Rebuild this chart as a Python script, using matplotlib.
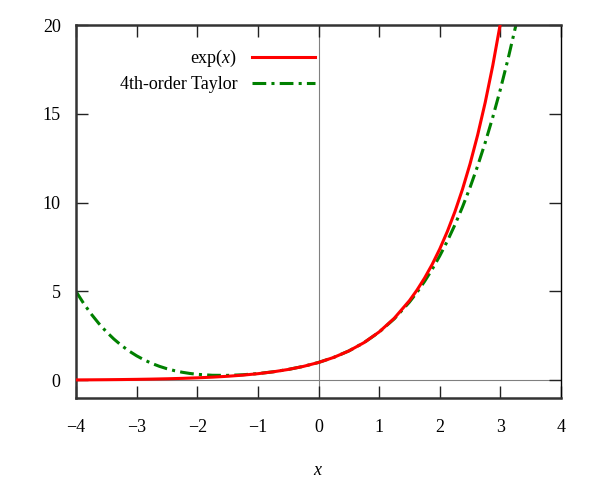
import matplotlib
matplotlib.use("Agg")
import matplotlib.pyplot as plt

exp_x = [-4.0, -3.75, -3.5, -3.25, -3.0, -2.75, -2.5, -2.25, -2.0, -1.75, -1.5, -1.25,
         -1.0, -0.75, -0.5, -0.25, 0.0, 0.25, 0.5, 0.75, 1.0, 1.25, 1.5, 1.625, 1.75,
         1.875, 2.0, 2.125, 2.25, 2.375, 2.5, 2.625, 2.75, 2.875, 3.0, 3.125]
exp_vals = [0.018316, 0.023518, 0.030197, 0.038774, 0.049787, 0.063928, 0.082085, 0.105399,
            0.135335, 0.173774, 0.223130, 0.286505, 0.367879, 0.472367, 0.606531, 0.778801,
            1.0, 1.284025, 1.648721, 2.117000, 2.718282, 3.490343, 4.481689, 5.078419,
            5.754603, 6.520821, 7.389056, 8.372894, 9.487736, 10.751010, 12.182494,
            13.804568, 15.642632, 17.725417, 20.085537, 22.759886]
taylor_x = [-4.0, -3.875, -3.75, -3.625, -3.5, -3.375, -3.25, -3.125, -3.0, -2.875, -2.75,
            -2.625, -2.5, -2.375, -2.25, -2.125, -2.0, -1.75, -1.5, -1.25, -1.0, -0.75,
            -0.5, -0.25, 0.0, 0.25, 0.5, 0.75, 1.0, 1.25, 1.5, 1.625, 1.75, 1.875, 2.0,
            2.125, 2.25, 2.375, 2.5, 2.625, 2.75, 2.875, 3.0, 3.125, 3.25, 3.375]
taylor_vals = [5.0, 4.329763, 3.731934, 3.201019, 2.731771, 2.319183, 1.958496, 1.645193,
               1.375, 1.143891, 0.948079, 0.784028, 0.648437, 0.538260, 0.450683, 0.383149,
               0.333333, 0.278809, 0.273438, 0.307454, 0.375, 0.474121, 0.606771, 0.778809,
               1.0, 1.284017, 1.648437, 2.114746, 2.708333, 3.458496, 4.398438, 4.951020,
               5.565267, 6.246430, 7.0, 7.831717, 8.747559, 9.753754, 10.856771, 12.063324,
               13.380371, 14.815115, 16.375, 18.067719, 19.901204, 21.883637]
labels = ["exp($x$)", "4th-order Taylor"]
x_ticks = [-4, -3, -2, -1, 0, 1, 2, 3, 4]
y_ticks = [0, 5, 10, 15, 20]

plt.rcParams['font.family'] = ['Liberation Serif', 'DejaVu Serif']
plt.rcParams['mathtext.fontset'] = 'custom'
plt.rcParams['mathtext.it'] = 'Liberation Serif:italic'
plt.rcParams['mathtext.rm'] = 'Liberation Serif'

fig = plt.figure(figsize=(6, 4.8), dpi=100)
ax = fig.add_axes([76/600, 82/480, 485/600, 373/480])

ax.axhline(0, color='#808080', lw=0.8, zorder=1)
ax.axvline(0, color='#808080', lw=0.8, zorder=1)

ax.plot(exp_x, exp_vals, color='#ff0000', lw=2.2, label=labels[0], zorder=3)
ax.plot(taylor_x, taylor_vals, color='#008000', lw=2.2, dashes=(4.5, 1.7, 1, 1.7),
        label=labels[1], zorder=2)

ax.set_xlim(-4, 4)
ax.set_ylim(-1, 20)
ax.set_xticks(x_ticks)
ax.set_yticks(y_ticks)
ax.tick_params(direction='in', length=8.6, width=1, top=True, right=True,
               labelsize=13, color='#222222')
ax.tick_params(axis='x', pad=15)
ax.tick_params(axis='y', pad=11)

for side in ['left', 'bottom', 'top']:
    ax.spines[side].set_linewidth(1.8)
    ax.spines[side].set_color('#333333')
ax.spines['right'].set_linewidth(1.0)
ax.spines['right'].set_color('#000000')

ax.set_xlabel('$x$', fontsize=13, labelpad=18.5)

leg = ax.legend(loc='upper right', bbox_to_anchor=((315 - 76) / 485, (398 - 48) / 373),
                frameon=False, markerfirst=False, fontsize=13, handlelength=3.5,
                handletextpad=0.78, labelspacing=0.4, borderpad=0, borderaxespad=0)

fig.savefig('out.png', dpi=100)
